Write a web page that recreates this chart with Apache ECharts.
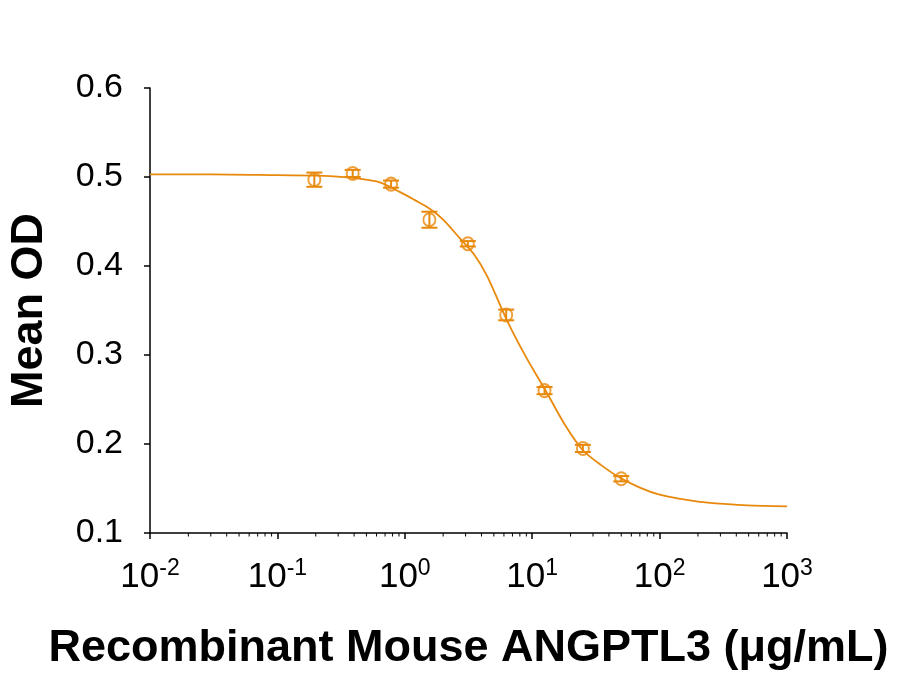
<!DOCTYPE html>
<html>
<head>
<meta charset="utf-8">
<script src="https://cdn.jsdelivr.net/npm/echarts@6/dist/echarts.min.js"></script>
<style>
  html, body { margin: 0; padding: 0; background: #fff; }
  #main { width: 899px; height: 678px; }
</style>
</head>
<body>
<div id="main"></div>
<script>
// measured points
var doseX = [0.195, 0.39, 0.78, 1.56, 3.125, 6.25, 12.5, 25, 50];
var meanOD = [0.497, 0.504, 0.492, 0.452, 0.425, 0.345, 0.260, 0.195, 0.161];
var errOD = [0.008, 0.004, 0.004, 0.009, 0.003, 0.006, 0.004, 0.004, 0.003];

// fitted curve
var curveX = [0.01, 0.03, 0.1, 0.26, 0.6, 0.92, 1.2, 1.58, 2, 2.71, 3.5, 4.42, 6.34, 9, 13.1, 18, 25, 35, 49, 70, 100, 150, 207, 300, 485, 1000];
var curveY = [0.503, 0.503, 0.502, 0.501, 0.495, 0.483, 0.474, 0.464, 0.452, 0.431, 0.413, 0.389, 0.339, 0.297, 0.257, 0.222, 0.193, 0.176, 0.162, 0.151, 0.143, 0.138, 0.135, 0.133, 0.131, 0.130];

var yTicks = [0.1, 0.2, 0.3, 0.4, 0.5, 0.6];
var decades = [0.01, 0.1, 1, 10, 100];

var orange = '#E8890C';
var font = 'Liberation Sans, Arial, sans-serif';

var chart = echarts.init(document.getElementById('main'));

var points = doseX.map(function (x, i) { return [x, meanOD[i], errOD[i]]; });
var curve = curveX.map(function (x, i) { return [x, curveY[i]]; });

// minor ticks at 2..9 of each decade
var minorTicks = [];
decades.forEach(function (d) {
    for (var k = 2; k <= 9; k++) minorTicks.push([d * k, 0.1]);
});

var option = {
    backgroundColor: '#fff',
    animation: false,
    grid: { left: 150, right: 112, top: 88, bottom: 145, outerBoundsMode: 'none', containLabel: false },
    xAxis: {
        type: 'log',
        logBase: 10,
        min: 0.01,
        max: 1000,
        name: 'Recombinant Mouse ANGPTL3 (\u03bcg/mL)',
        nameLocation: 'middle',
        nameGap: 93,
        nameTextStyle: { fontFamily: font, fontSize: 45, fontWeight: 'bold', color: '#000' },
        axisLine: { lineStyle: { color: '#000', width: 1.5 } },
        axisTick: { inside: false, length: 6, lineStyle: { color: '#000', width: 1.5 } },
        splitLine: { show: false },
        axisLabel: {
            margin: 24,
            formatter: function (v) {
                var e = Math.round(Math.log10(v));
                return '{b|10}{s|' + e + '}';
            },
            rich: {
                b: { fontFamily: font, fontSize: 35, color: '#000', verticalAlign: 'bottom', lineHeight: 38 },
                s: { fontFamily: font, fontSize: 23, color: '#000', verticalAlign: 'top', lineHeight: 38, padding: [0, 0, 14, 0] }
            }
        }
    },
    yAxis: {
        type: 'value',
        min: 0.1,
        max: 0.6,
        interval: 0.1,
        name: 'Mean OD',
        nameLocation: 'middle',
        nameGap: 98,
        nameTextStyle: { fontFamily: font, fontSize: 45, fontWeight: 'bold', color: '#000' },
        axisLine: { show: true, lineStyle: { color: '#000', width: 1.5 } },
        axisTick: { show: true, length: 6, lineStyle: { color: '#000', width: 1.5 } },
        splitLine: { show: false },
        axisLabel: {
            margin: 27,
            fontFamily: font,
            fontSize: 34,
            color: '#000',
            formatter: function (v) { return v.toFixed(1); }
        }
    },
    series: [
        {
            type: 'line',
            data: curve,
            smooth: 0.3,
            showSymbol: false,
            lineStyle: { color: orange, width: 1.8 },
            z: 2
        },
        {
            type: 'custom',
            data: points,
            renderItem: function (params, api) {
                var x = api.value(0), y = api.value(1), e = api.value(2);
                var top = api.coord([x, y + e]);
                var bot = api.coord([x, y - e]);
                var hw = 8;
                var style = { stroke: orange, lineWidth: 2 };
                return {
                    type: 'group',
                    children: [
                        { type: 'line', shape: { x1: top[0], y1: top[1], x2: bot[0], y2: bot[1] }, style: style },
                        { type: 'line', shape: { x1: top[0] - hw, y1: top[1], x2: top[0] + hw, y2: top[1] }, style: style },
                        { type: 'line', shape: { x1: bot[0] - hw, y1: bot[1], x2: bot[0] + hw, y2: bot[1] }, style: style }
                    ]
                };
            },
            z: 3
        },
        {
            type: 'scatter',
            data: points,
            symbol: 'circle',
            symbolSize: [12, 13],
            itemStyle: { color: 'rgba(255,255,255,0)', borderColor: orange, borderWidth: 2 },
            z: 4
        },
        {
            type: 'custom',
            data: minorTicks,
            silent: true,
            clip: false,
            renderItem: function (params, api) {
                var p = api.coord([api.value(0), api.value(1)]);
                return {
                    type: 'line',
                    shape: { x1: p[0], y1: p[1], x2: p[0], y2: p[1] + 3.5 },
                    style: { stroke: '#000', lineWidth: 1 }
                };
            },
            z: 5
        }
    ]
};

chart.setOption(option);
</script>
</body>
</html>
